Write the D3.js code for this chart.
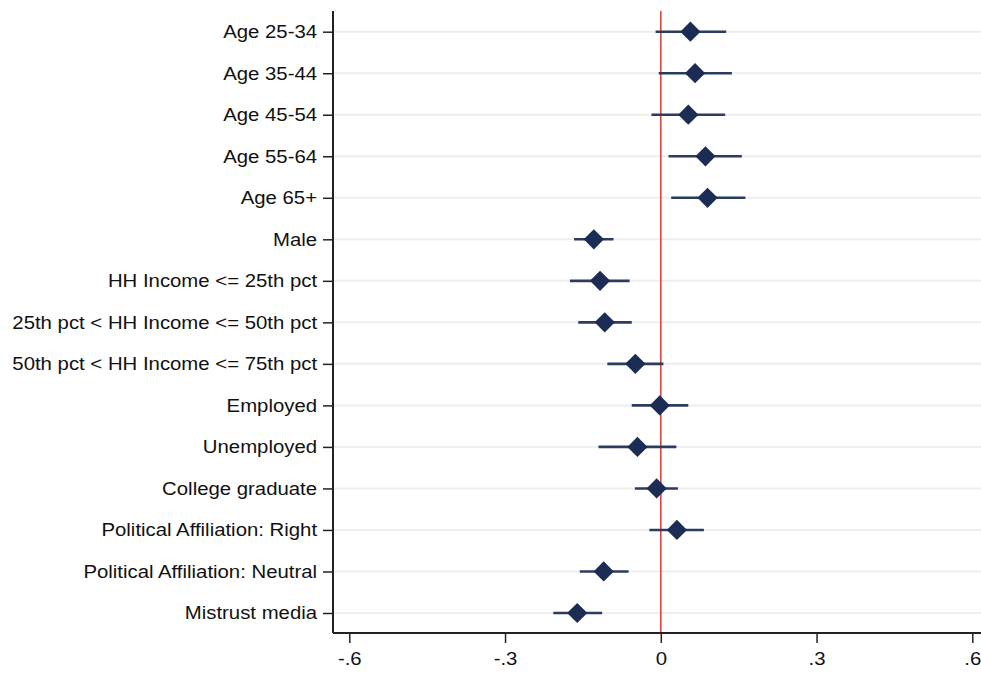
<!DOCTYPE html>
<html>
<head>
<meta charset="utf-8">
<script src="https://cdn.jsdelivr.net/npm/d3@7"></script>
<style>
  html, body { margin: 0; padding: 0; background: #ffffff; }
  svg { display: block; }
  text { font-family: "Liberation Sans", Arial, sans-serif; }
</style>
</head>
<body>
<svg id="chart" width="981" height="673"></svg>
<script>
const categories = [
  "Age 25-34",
  "Age 35-44",
  "Age 45-54",
  "Age 55-64",
  "Age 65+",
  "Male",
  "HH Income <= 25th pct",
  "25th pct < HH Income <= 50th pct",
  "50th pct < HH Income <= 75th pct",
  "Employed",
  "Unemployed",
  "College graduate",
  "Political Affiliation: Right",
  "Political Affiliation: Neutral",
  "Mistrust media"
];
const estimates = [0.057, 0.066, 0.053, 0.086, 0.090, -0.129, -0.117, -0.108, -0.049, -0.002, -0.045, -0.008, 0.031, -0.110, -0.161];
const ciLow     = [-0.010, -0.004, -0.018, 0.015, 0.020, -0.167, -0.175, -0.159, -0.103, -0.056, -0.120, -0.050, -0.022, -0.156, -0.207];
const ciHigh    = [0.126, 0.137, 0.124, 0.156, 0.163, -0.091, -0.060, -0.056, 0.005, 0.053, 0.030, 0.033, 0.083, -0.062, -0.113];
const xTicks = [-0.6, -0.3, 0, 0.3, 0.6];
const xTickLabels = ["-.6", "-.3", "0", ".3", ".6"];

const svg = d3.select("#chart");
const plotLeft = 333, plotRight = 981, plotTop = 11, plotBottom = 633;

const x = d3.scaleLinear().domain([-0.6, 0.6]).range([349.3, 972.3]);
const y = d3.scalePoint().domain(categories).range([31.7, 613]);

// gridlines
svg.append("g").selectAll("line").data(categories).join("line")
  .attr("x1", plotLeft).attr("x2", plotRight)
  .attr("y1", d => y(d)).attr("y2", d => y(d))
  .attr("stroke", "#eeeeee").attr("stroke-width", 2);

// reference line at 0
svg.append("line")
  .attr("x1", x(0)).attr("x2", x(0))
  .attr("y1", plotTop).attr("y2", plotBottom)
  .attr("stroke", "#e0443e").attr("stroke-width", 1.6);

// y axis
const yAxis = d3.axisLeft(y).tickSize(10).tickPadding(4.5);
const gy = svg.append("g").attr("transform", `translate(${plotLeft},0)`).call(yAxis);
gy.select(".domain").attr("d", `M0,${plotTop}V${plotBottom}`).attr("stroke", "#222").attr("stroke-width", 2);
gy.selectAll(".tick line").attr("stroke", "#222").attr("stroke-width", 1.5);
gy.selectAll(".tick text").attr("font-size", 18.5).attr("fill", "#111")
  .attr("font-family", '"Liberation Sans", Arial, sans-serif')
  .attr("transform", "scale(1.1,1)");

// x axis
const xAxis = d3.axisBottom(x).tickValues(xTicks).tickFormat((d, i) => xTickLabels[i]).tickSize(10).tickPadding(9);
const gx = svg.append("g").attr("transform", `translate(0,${plotBottom})`).call(xAxis);
gx.select(".domain").attr("d", `M${plotLeft},0H${plotRight}`).attr("stroke", "#222").attr("stroke-width", 2);
gx.selectAll(".tick line").attr("stroke", "#222").attr("stroke-width", 1.5);
gx.selectAll(".tick text").attr("font-size", 18.5).attr("fill", "#111")
  .attr("font-family", '"Liberation Sans", Arial, sans-serif')
  .attr("transform", "scale(1.1,1)");

// confidence intervals
svg.append("g").selectAll("line").data(categories).join("line")
  .attr("x1", (d, i) => x(ciLow[i])).attr("x2", (d, i) => x(ciHigh[i]))
  .attr("y1", d => y(d)).attr("y2", d => y(d))
  .attr("stroke", "#2b3d5e").attr("stroke-width", 2.6);

// diamonds
const diamond = d3.symbol().type(d3.symbolSquare).size(205);
svg.append("g").selectAll("path").data(categories).join("path")
  .attr("d", diamond)
  .attr("transform", (d, i) => `translate(${x(estimates[i])},${y(d)}) rotate(45)`)
  .attr("fill", "#1b2d55");
</script>
</body>
</html>
